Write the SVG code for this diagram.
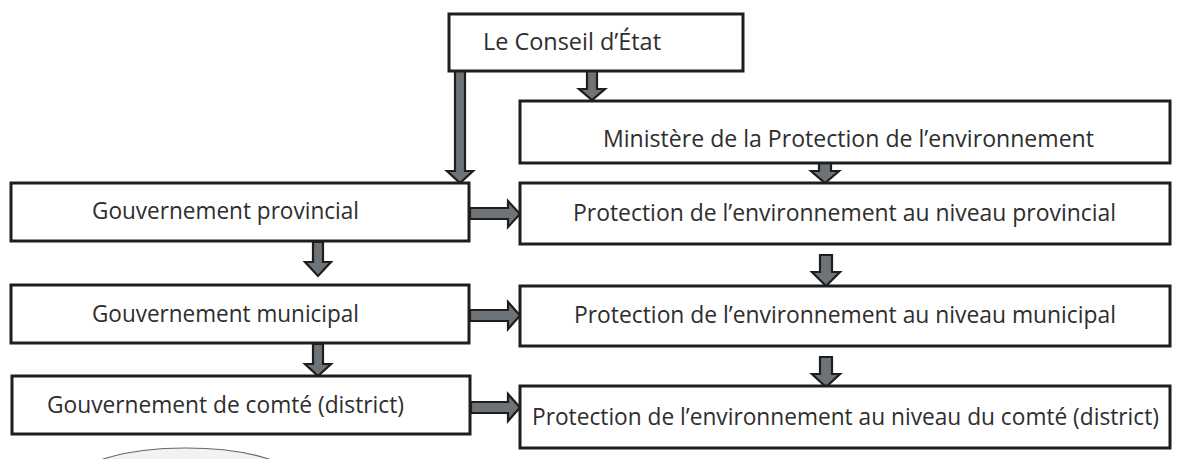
<svg xmlns="http://www.w3.org/2000/svg" width="1179" height="459" viewBox="0 0 1179 459">
<style>
.box{fill:#fff;stroke:#1e1e1e;stroke-width:3}
.lbl{font-family:"Open Sans","Noto Sans","Liberation Sans",sans-serif;font-size:24px;fill:#2e2e2e}
.arr{fill:#6e7378;stroke:#1e1e1e;stroke-width:2.2;stroke-linejoin:miter}
</style>
<rect width="1179" height="459" fill="#fff"/>
<ellipse cx="186" cy="482" rx="112" ry="34" fill="#f2f2f2" stroke="#666" stroke-width="1.2"/>
<g id="connectors">
<path class="arr" d="M455,71 V171 H447 L460,183 L473,171 H465 V71 Z"/>
<path class="arr" d="M587,71 V89 H579 L592,100 L605,89 H597 V71 Z"/>
<path class="arr" d="M819,163 V171 H811 L825,183 L839,171 H831 V163 Z"/>
<path class="arr" d="M820,255 V272 H812 L826,286 L840,272 H832 V255 Z"/>
<path class="arr" d="M820,357 V374 H812 L826,387 L840,374 H832 V357 Z"/>
<path class="arr" d="M313,242 V262 H305 L318,276 L331,262 H323 V242 Z"/>
<path class="arr" d="M313,344 V364 H305 L318,376 L331,364 H323 V344 Z"/>
<path class="arr" d="M470,208 H508 V201 L520,214 L508,227 V219 H470 Z"/>
<path class="arr" d="M470,310 H508 V302 L520,315.5 L508,329 V321 H470 Z"/>
<path class="arr" d="M471,402 H508 V394 L520,407.5 L508,421 V413 H471 Z"/>
</g>
<g id="conseil"><rect class="box" x="449" y="14" width="294" height="57"/><text class="lbl" x="483" y="50" textLength="178" lengthAdjust="spacingAndGlyphs">Le Conseil d’État</text></g>
<g id="ministere"><rect class="box" x="520" y="101" width="650" height="62"/><text class="lbl" x="603" y="147" textLength="491" lengthAdjust="spacingAndGlyphs">Ministère de la Protection de l’environnement</text></g>
<g id="prot-prov"><rect class="box" x="520" y="183" width="650" height="61"/><text class="lbl" x="573" y="221" textLength="543" lengthAdjust="spacingAndGlyphs">Protection de l’environnement au niveau provincial</text></g>
<g id="prot-mun"><rect class="box" x="520" y="286" width="650" height="60"/><text class="lbl" x="574" y="323" textLength="542" lengthAdjust="spacingAndGlyphs">Protection de l’environnement au niveau municipal</text></g>
<g id="prot-comte"><rect class="box" x="520" y="386" width="650" height="62"/><text class="lbl" x="532" y="425" textLength="627" lengthAdjust="spacingAndGlyphs">Protection de l’environnement au niveau du comté (district)</text></g>
<g id="gouv-prov"><rect class="box" x="11" y="183" width="458" height="58"/><text class="lbl" x="92" y="219" textLength="267" lengthAdjust="spacingAndGlyphs">Gouvernement provincial</text></g>
<g id="gouv-mun"><rect class="box" x="11" y="285" width="458" height="58"/><text class="lbl" x="92" y="322" textLength="267" lengthAdjust="spacingAndGlyphs">Gouvernement municipal</text></g>
<g id="gouv-comte"><rect class="box" x="12" y="376" width="458" height="58"/><text class="lbl" x="47" y="413" textLength="357" lengthAdjust="spacingAndGlyphs">Gouvernement de comté (district)</text></g>
</svg>
